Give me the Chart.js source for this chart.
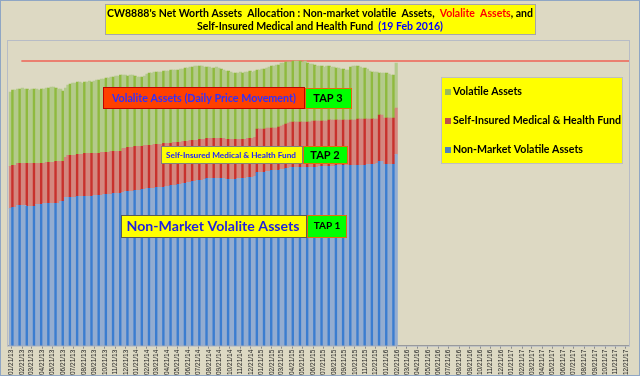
<!DOCTYPE html>
<html>
<head>
<meta charset="utf-8">
<script src="https://cdn.jsdelivr.net/npm/chart.js@4"></script>
<style>
  html, body { margin: 0; padding: 0; background: #ddd9c3; }
  #wrap { width: 640px; height: 376px; }
</style>
</head>
<body>
<div id="wrap"><canvas id="netWorthChart" width="640" height="376"></canvas></div>
<script>
// weekly values (k$), Fridays from 18 Jan 2013 to 19 Feb 2016
const nonMarket = [
  137,138,
  138,140,140,140,140,139,139,139,139,141,
  141,141,142,142,142,142,142,142,142,144,
  144,148,148,148,148,148,149,149,149,149,
  149,149,149,150,150,150,150,151,151,151,
  151,152,152,152,152,153,154,154,154,154,
  155,155,155,156,156,157,157,157,157,158,
  158,158,158,159,159,160,160,160,161,161,
  162,162,163,163,164,164,165,165,165,166,
  167,167,167,167,167,167,167,167,166,166,
  166,166,166,167,167,167,167,168,168,168,
  169,173,173,173,173,174,174,175,175,175,
  175,176,176,177,177,178,178,178,178,178,
  178,178,178,178,178,178,178,179,179,179,
  179,179,179,179,180,180,180,180,180,180,
  180,180,180,180,180,180,180,181,181,181,
  181,182,184,184,181,181,181,181,181,191
];
const medical = [
  42,42,
  42,42,42,42,42,43,43,43,43,41,
  41,41,40,41,41,41,41,42,42,40,
  40,40,42,42,42,42,42,42,42,43,
  43,43,43,42,42,42,43,42,42,42,
  43,42,42,42,42,44,43,44,44,44,
  44,44,44,43,44,43,43,43,44,43,
  43,43,44,43,43,42,43,43,42,42,
  42,42,41,42,41,41,40,41,41,40,
  40,40,40,40,40,40,40,40,40,40,
  40,40,40,39,39,39,39,39,39,39,
  39,43,43,43,43,43,43,42,42,42,
  43,43,44,44,45,45,45,45,45,45,
  45,45,45,45,46,46,46,45,45,45,
  45,46,46,46,45,45,45,45,45,45,
  45,45,45,46,46,46,46,45,45,45,
  45,44,46,46,46,46,46,46,46,46
];
const volatile = [
  74,75,
  75,74,74,75,74,74,73,74,74,74,
  73,74,74,74,74,75,75,73,72,72,
  70,69,70,71,72,72,72,72,71,71,
  71,72,71,72,73,73,73,73,74,74,
  74,74,75,75,76,73,73,71,72,72,
  70,69,69,69,69,71,72,72,72,72,
  72,72,72,72,72,73,72,72,72,73,
  72,73,73,73,73,74,74,73,73,72,
  71,71,70,70,71,70,69,68,68,68,
  67,66,66,66,67,66,67,66,67,66,
  66,59,59,60,60,60,61,62,62,63,
  62,63,62,62,61,60,61,61,61,61,
  60,61,59,58,57,56,55,55,55,54,
  55,54,53,53,52,52,51,51,50,50,
  53,54,54,53,52,51,51,50,48,47,
  47,47,42,42,45,45,44,43,43,45
];
// target line (k$), from end of Feb 2013 to the end of the axis
const targetDays = [29, 1804];
const targetValue = [284, 284];

const DAY = 86400000;
const origin = Date.UTC(2013, 0, 21);
const firstWeek = -3; // 18 Jan 2013
const weekDays = nonMarket.map((_, i) => firstWeek + 7 * i);

// monthly ticks 01/21/13 .. 12/21/17
const tickDays = [];
const tickLabels = [];
for (let m = 0; m < 60; m++) {
  const d = new Date(Date.UTC(2013, m, 21));
  tickDays.push(Math.round((d - origin) / DAY));
  const mm = String(d.getUTCMonth() + 1).padStart(2, "0");
  const yy = String(d.getUTCFullYear()).slice(2);
  tickLabels.push(mm + "/21/" + yy);
}

const stripes = (light, dark) => weekDays.map((_, i) => (i % 3 === 1 ? dark : light));
const points = (vals) => vals.map((v, i) => ({ x: weekDays[i], y: v }));

// draw a text run list centred at cx, squeezed/stretched to width w
function drawRuns(ctx, runs, cx, cy, font, w) {
  ctx.save();
  ctx.font = font;
  ctx.textBaseline = "middle";
  ctx.textAlign = "left";
  const total = runs.reduce((s, r) => s + ctx.measureText(r[0]).width, 0);
  const sx = w ? w / total : 1;
  ctx.translate(cx - (total * sx) / 2, cy);
  ctx.scale(sx, 1);
  let x = 0;
  runs.forEach(([t, c]) => {
    ctx.fillStyle = c;
    ctx.fillText(t, x, 0);
    x += ctx.measureText(t).width;
  });
  ctx.restore();
}

function box(ctx, x, y, w, h, fill, stroke) {
  ctx.fillStyle = fill;
  ctx.fillRect(x, y, w, h);
  ctx.strokeStyle = stroke;
  ctx.lineWidth = 1;
  ctx.strokeRect(x + 0.5, y + 0.5, w - 1, h - 1);
}

const overlay = {
  id: "overlay",
  beforeDraw(chart) {
    const { ctx, width, height } = chart;
    ctx.save();
    ctx.fillStyle = "#ddd9c3";
    ctx.fillRect(0, 0, width, height);
    ctx.restore();
  },
  afterDraw(chart) {
    const { ctx, chartArea: a } = chart;
    ctx.save();
    // plot area + outer frame
    ctx.strokeStyle = "#b7bcc6";
    ctx.strokeRect(a.left - 0.5, a.top + 0.5, a.right - a.left + 1, a.bottom - a.top);
    ctx.strokeStyle = "#8fa6c4";
    ctx.strokeRect(0.5, 0.5, 639, 375);

    // title
    box(ctx, 105, 4, 431, 31, "#ffff00", "#a6a6a6");
    drawRuns(ctx, [["CW8888's Net Worth Assets  Allocation : Non-market volatile  Assets,  ", "#000"],
      ["Volalite  Assets", "#ff0000"], [", and", "#000"]], 320, 13, "bold 11px Lato", 426);
    drawRuns(ctx, [["Self-Insured Medical and Health Fund  ", "#000"], ["(19 Feb 2016)", "#0000ff"]],
      320, 26, "bold 11px Lato", 246);

    // TAP labels
    box(ctx, 103, 87, 202, 22, "#ff4000", "#c00000");
    drawRuns(ctx, [["Volalite Assets (Daily Price Movement)", "#3030ff"]], 204, 98, "bold 11px Lato", 184);
    box(ctx, 305, 88, 47, 21, "#00ff00", "#e46c0a");
    drawRuns(ctx, [["TAP 3", "#000"]], 328, 98.5, "bold 11px Lato");

    box(ctx, 161, 146, 142, 18, "#ffff00", "#7f7f7f");
    drawRuns(ctx, [["Self-Insured Medical & Health Fund", "#2020ff"]], 231, 155, "bold 8px Lato", 130);
    box(ctx, 303, 146, 45, 18, "#00ff00", "#e46c0a");
    drawRuns(ctx, [["TAP 2", "#000"]], 325, 155, "bold 11px Lato");

    box(ctx, 121, 215, 186, 23, "#ffff00", "#595959");
    drawRuns(ctx, [["Non-Market Volalite Assets", "#1f1fe0"]], 213, 226.5, "bold 14px Lato", 173);
    box(ctx, 307, 215, 40, 23, "#00ff00", "#e46c0a");
    drawRuns(ctx, [["TAP 1", "#000"]], 327, 226, "bold 10px Lato");

    // legend (top item = last dataset)
    box(ctx, 441, 77, 182, 87, "#ffff00", "#bfbfbf");
    const items = chart.data.datasets.filter((d) => d.legendColor).reverse();
    const legendW = [69, 168, 130];
    items.forEach((d, i) => {
      const y = 92 + i * 29;
      ctx.fillStyle = d.legendColor;
      ctx.fillRect(445, y - 3, 6, 6);
      drawRuns(ctx, [[d.label, "#000"]], 453 + legendW[i] / 2, y, "bold 10.5px Lato", legendW[i]);
    });
    ctx.restore();
  },
};

new Chart(document.getElementById("netWorthChart"), {
  data: {
    datasets: [
      {
        type: "bar",
        label: "Non-Market Volatile Assets",
        data: points(nonMarket),
        backgroundColor: stripes("#93acd0", "#3b7dd0"),
        legendColor: "#4f81bd",
        barThickness: 2.5,
      },
      {
        type: "bar",
        label: "Self-Insured Medical & Health Fund",
        data: points(medical),
        backgroundColor: stripes("#d4877f", "#c8312d"),
        legendColor: "#c0504d",
        barThickness: 2.5,
      },
      {
        type: "bar",
        label: "Volatile Assets",
        data: points(volatile),
        backgroundColor: stripes("#b4ca8c", "#8fba3e"),
        legendColor: "#9bbb59",
        barThickness: 2.5,
      },
      {
        type: "line",
        label: "Target",
        yAxisID: "y2",
        data: targetDays.map((d, i) => ({ x: d, y: targetValue[i] })),
        borderColor: "#ea8070",
        borderWidth: 2,
        pointRadius: 0,
      },
    ],
  },
  options: {
    responsive: false,
    animation: false,
    layout: { padding: { left: 8, right: 11, top: 40, bottom: 0 } },
    plugins: {
      legend: { display: false },
      tooltip: { enabled: false },
    },
    scales: {
      x: {
        type: "linear",
        min: -10,
        max: 1804,
        offset: false,
        stacked: true,
        afterBuildTicks: (axis) => {
          axis.ticks = tickDays.map((v) => ({ value: v }));
        },
        ticks: {
          autoSkip: false,
          minRotation: 90,
          maxRotation: 90,
          padding: 1,
          color: "#222",
          font: { size: 6.5, family: "Liberation Sans" },
          callback: (v, i) => tickLabels[i],
        },
        grid: { drawOnChartArea: false, offset: false, tickLength: 3, color: "#8c8c8c" },
        border: { color: "#8c8c8c" },
      },
      y: { stacked: true, min: 0, max: 305, display: false },
      y2: { min: 0, max: 305, display: false },
    },
  },
  plugins: [overlay],
});
</script>
</body>
</html>
